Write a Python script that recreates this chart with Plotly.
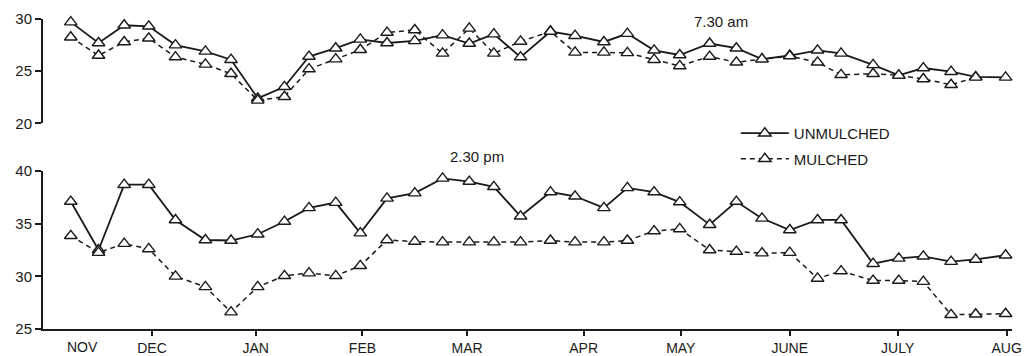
import plotly.graph_objects as go

# x positions of the readings, in months from 1 Nov (DEC = 1, ..., AUG = 9)
obs_pos = [0.24, 0.50, 0.74, 0.97, 1.22, 1.50, 1.74, 1.99, 2.24, 2.47, 2.72, 2.95,
           3.20, 3.46, 3.72, 3.97, 4.20, 4.45, 4.73, 4.96, 5.23, 5.45, 5.70, 5.94,
           6.22, 6.47, 6.71, 6.97, 7.23, 7.45, 7.75, 7.99, 8.22, 8.48, 8.71, 8.99]

# 7.30 am soil temperature
am_unmulched = [29.7, 27.7, 29.4, 29.3, 27.5, 26.9, 26.1, 22.4, 23.5, 26.4, 27.2, 28.05,
                27.7, 27.9, 28.45, 27.65, 28.55, 26.35, 28.8, 28.4, 27.8, 28.6,
                27.0, 26.55, 27.65, 27.2, 26.15, 26.5, 27.0, 26.7, 25.6, 24.6,
                25.3, 24.95, 24.45, 24.4]
am_mulched = [28.25, 26.5, 27.8, 28.15, 26.35, 25.65, 24.75, 22.2, 22.55, 25.2, 26.15, 27.05,
              28.7, 28.95, 26.7, 29.1, 26.7, 27.85, 28.8, 26.8, 26.8, 26.75,
              26.1, 25.5, 26.4, 25.85, 26.15, 26.45, 25.85, 24.65, 24.75, 24.6,
              24.25, 23.7, 24.4]

# 2.30 pm soil temperature
pm_unmulched = [37.1, 32.5, 38.7, 38.7, 35.35, 33.45, 33.4, 34.0, 35.2, 36.5, 37.0, 34.1,
                37.4, 37.9, 39.3, 39.0, 38.5, 35.7, 38.0, 37.6, 36.5, 38.4,
                38.0, 37.05, 34.9, 37.1, 35.5, 34.4, 35.35, 35.35, 31.2, 31.7,
                31.9, 31.4, 31.6, 32.0]
pm_mulched = [33.85, 32.25, 33.1, 32.6, 30.0, 29.0, 26.6, 29.0, 30.05, 30.3, 30.05, 31.0,
              33.45, 33.3, 33.25, 33.25, 33.25, 33.25, 33.4, 33.25, 33.25, 33.4,
              34.3, 34.5, 32.5, 32.35, 32.2, 32.25, 29.8, 30.5, 29.6, 29.6,
              29.5, 26.35, 26.4, 26.45]

month_pos = [1.0, 1.97, 2.97, 3.95, 5.04, 5.95, 6.97, 7.98, 9.0]
month_labels = ["DEC", "JAN", "FEB", "MAR", "APR", "MAY", "JUNE", "JULY", "AUG"]
first_month_label = "NOV"

FONT = "Liberation Sans, Arial, sans-serif"
INK = "#1a1a1a"

marker = dict(symbol="triangle-up", size=11, color="white",
              line=dict(color=INK, width=1.4))
solid = dict(color=INK, width=1.8)
dashed = dict(color=INK, width=1.5, dash="5px,4px")

fig = go.Figure()
fig.add_trace(go.Scatter(x=obs_pos[:len(am_unmulched)], y=am_unmulched, yaxis="y2",
                         mode="lines+markers", line=solid, marker=marker,
                         cliponaxis=False, showlegend=False, name="UNMULCHED"))
fig.add_trace(go.Scatter(x=obs_pos[:len(am_mulched)], y=am_mulched, yaxis="y2",
                         mode="lines+markers", line=dashed, marker=marker,
                         cliponaxis=False, showlegend=False, name="MULCHED"))
fig.add_trace(go.Scatter(x=obs_pos[:len(pm_unmulched)], y=pm_unmulched, yaxis="y",
                         mode="lines+markers", line=solid, marker=marker,
                         cliponaxis=False, name="UNMULCHED", legendgroup="u"))
fig.add_trace(go.Scatter(x=obs_pos[:len(pm_mulched)], y=pm_mulched, yaxis="y",
                         mode="lines+markers", line=dashed, marker=marker,
                         cliponaxis=False, name="MULCHED", legendgroup="m"))

axis_common = dict(showgrid=False, zeroline=False, showline=True, linecolor=INK,
                   linewidth=2, ticks="outside", tickcolor=INK, tickwidth=2,
                   automargin=False)
yfont = dict(family=FONT, size=15, color=INK)
xfont = dict(family=FONT, size=14, color=INK)

# the page body adds an 8px offset, so the figure is 8px smaller than the window
fig.update_layout(
    template="none",
    width=1023, height=348,
    margin=dict(l=35, r=19, t=11, b=27, autoexpand=False),
    paper_bgcolor="white", plot_bgcolor="white",
    xaxis=dict(range=[-0.02, 9.05], tickvals=month_pos, ticktext=month_labels,
               anchor="y", ticklen=5, tickfont=xfont, **axis_common),
    yaxis=dict(range=[25, 40], domain=[0, 0.5097], tickvals=[25, 30, 35, 40],
               anchor="x", ticklen=6, tickfont=yfont, **axis_common),
    yaxis2=dict(range=[20, 30], domain=[0.6635, 1], tickvals=[20, 25, 30],
                anchor="x", ticklen=6, tickfont=yfont, **axis_common),
    showlegend=True,
    legend=dict(x=0.715, y=0.684, xanchor="left", yanchor="top",
                bgcolor="rgba(0,0,0,0)", itemwidth=48, tracegroupgap=3,
                font=dict(family=FONT, size=15, color=INK)),
    annotations=[
        dict(text="7.30 am", x=6.33, y=29.8, xref="x", yref="y2", showarrow=False,
             font=dict(family=FONT, size=15, color=INK)),
        dict(text="2.30 pm", x=4.04, y=0.556, xref="x", yref="paper", showarrow=False,
             font=dict(family=FONT, size=15, color=INK)),
        dict(text=first_month_label, x=0.35, y=0, xref="x", yref="paper",
             yanchor="top", yshift=-8, showarrow=False,
             font=xfont),
    ],
)

fig.write_html("out.html")
